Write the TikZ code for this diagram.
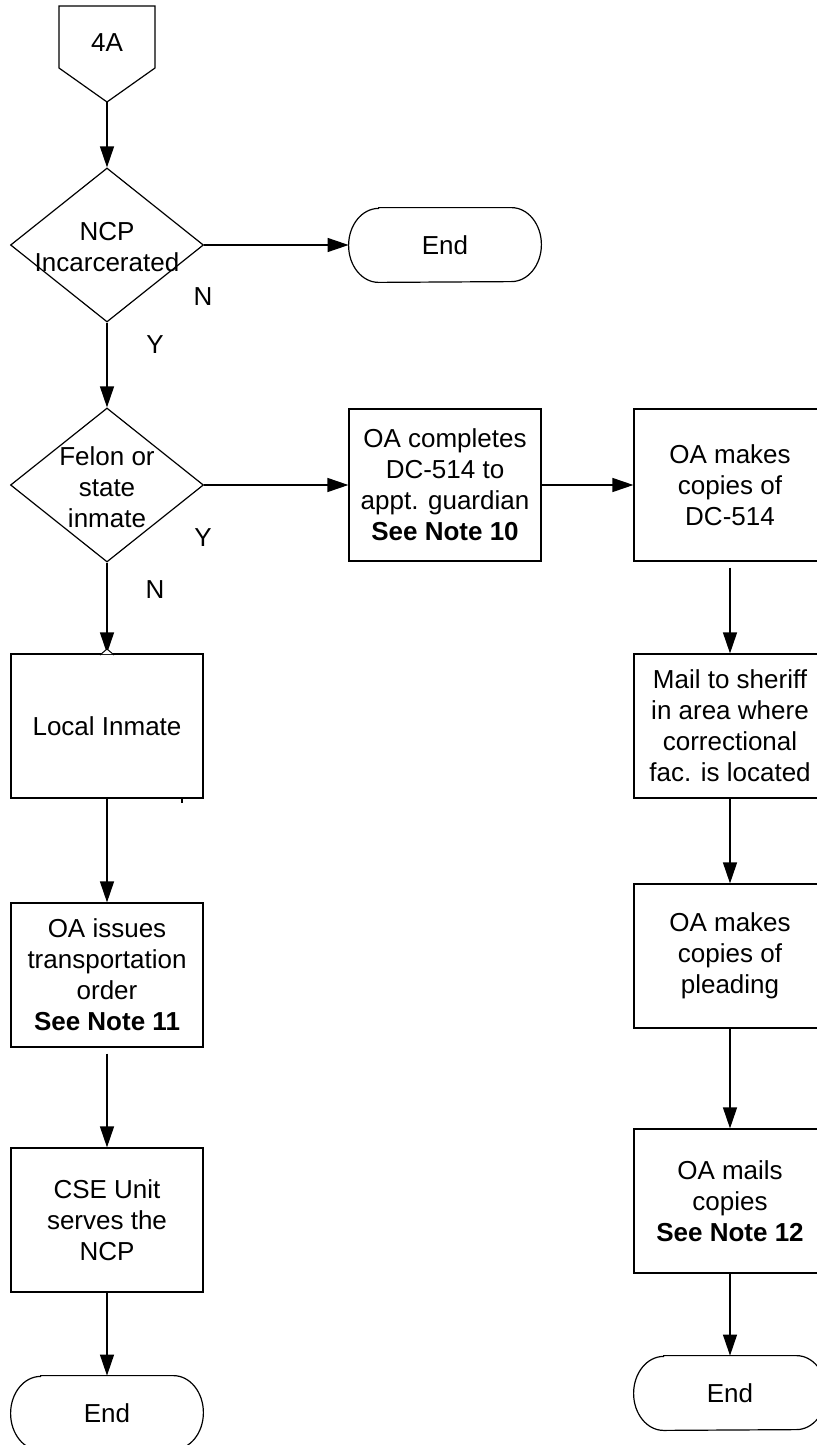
\documentclass[tikz,border=0pt]{standalone}
\usepackage{fontspec}
\setmainfont{Liberation Sans}
\usetikzlibrary{shapes.geometric, arrows.meta}

% terminal outline: straight top and bottom, elliptic ends
\newcommand{\ovaloutline}[1]{%
  \draw[outline] ([xshift=15pt]#1.north west) -- ([xshift=-15pt]#1.north east)
    arc[start angle=90, end angle=-90, x radius=15pt, y radius=18.5pt]
    -- ([xshift=15pt]#1.south west)
    arc[start angle=270, end angle=90, x radius=15pt, y radius=18.5pt] -- cycle;}

\begin{document}
\begin{tikzpicture}[x=0.5pt, y=-0.5pt,
  every node/.style={font=\fontsize{13}{15.5}\selectfont, inner sep=0pt},
  outline/.style={draw=black, line width=0.6pt},
  procbox/.style={outline, rectangle, align=center, minimum width=96pt, minimum height=72pt},
  tallbox/.style={procbox, minimum height=76pt},
  decision/.style={outline, diamond, minimum width=96.5pt, minimum height=77pt},
  terminal/.style={rectangle, minimum width=96pt, minimum height=37pt},
  flow/.style={line width=0.6pt, -{Triangle[length=10.5pt,width=7pt]}}
]
\useasboundingbox (0,0) rectangle (817,1445);
\clip (0,0) rectangle (817,1445);
\fill[white] (0,0) rectangle (817,1445);

% off-page connector
\draw[outline] (59,6) -- (155,6) -- (155,68) -- (107,102) -- (59,68) -- cycle;
\node (c4a) at (107,43) {4A};
\coordinate (c4tip) at (107,102);

% decisions
\node[decision] (d1) at (107,245) {};
\node[align=center] (d1t) at (107,247) {NCP\\Incarcerated};
\node[decision] (d2) at (107,485) {};
\node[align=center] (d2t) at (107,487) {Felon or\\state\\inmate};

% terminals
\node[terminal] (e1) at (445,245) {End};
\ovaloutline{e1}
\node[terminal] (e2) at (107,1413) {End};
\ovaloutline{e2}
\node[terminal] (e3) at (730,1393) {End};
\ovaloutline{e3}

% process boxes
\node[tallbox] (b1) at (445,485) {OA completes\\DC-514 to\\appt. guardian\\\textbf{See Note 10}};
\node[tallbox] (b2) at (730,485) {OA makes\\copies of\\DC-514};
\node[procbox] (b3) at (730,726) {Mail to sheriff\\in area where\\correctional\\fac. is located};
\node[procbox] (b4) at (730,956) {OA makes\\copies of\\pleading};
\node[procbox] (b5) at (730,1201) {OA mails\\copies\\\textbf{See Note 12}};
\node[procbox] (l1) at (107,726) {Local Inmate};
\node[procbox] (l2) at (107,975) {OA issues\\transportation\\order\\\textbf{See Note 11}};
\node[procbox] (l3) at (107,1220) {CSE Unit\\serves the\\NCP};

% branch labels
\node (n1) at (203,297) {N};
\node (y1) at (155,345) {Y};
\node (y2) at (203,538) {Y};
\node (n2) at (155,590) {N};

% connectors
\draw[flow] (c4tip) -- (d1.north);
\draw[flow] (d1.east) -- (e1.west);
\draw[flow] (d1.south) -- (d2.north);
\draw[flow] (d2.east) -- (b1.west);
\draw[flow] (b1.east) -- (b2.west);
\draw[flow] ([yshift=-3pt]b2.south) -- (b3.north);
\draw[flow] (b3.south) -- (b4.north);
\draw[flow] (b4.south) -- (b5.north);
\draw[flow] (b5.south) -- (e3.north);
\draw[flow] (d2.south) -- (l1.north);
\draw[flow] (l1.south) -- (l2.north);
\draw[flow] ([yshift=-3pt]l2.south) -- (l3.north);
\draw[flow] (l3.south) -- (e2.north);

% small marks on the local inmate box
\fill[white] (101,654) -- (107,649) -- (113,654) -- cycle;
\draw[line width=0.5pt] (100,655) -- (107,649) -- (114,655);
\draw[line width=0.6pt] (182,799) -- (182,803);
\end{tikzpicture}
\end{document}
